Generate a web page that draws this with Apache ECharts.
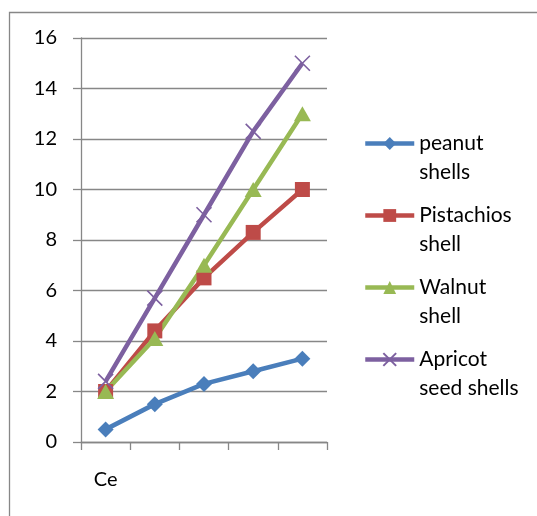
<!DOCTYPE html>
<html>
<head>
<meta charset="utf-8">
<script src="https://cdn.jsdelivr.net/npm/echarts@6/dist/echarts.min.js"></script>
<style>
  html, body { margin: 0; padding: 0; background: #fff; }
  #chart { width: 537px; height: 516px; }
</style>
</head>
<body>
<div id="chart"></div>
<script>
// Category axis: only the first position carries a label
const categories = ['Ce', '', '', '', ''];

// Measured values per shell type
const peanutShells = [0.5, 1.5, 2.3, 2.8, 3.3];
const pistachiosShell = [2.0, 4.4, 6.5, 8.3, 10.0];
const walnutShell = [2.0, 4.1, 7.0, 10.0, 13.0];
const apricotSeedShells = [2.4, 5.7, 9.0, 12.3, 15.0];

// Value axis range
const yMin = 0;
const yMax = 16;
const yStep = 2;

const FONT = 'Lato, "Liberation Sans", sans-serif';
const AXIS_GRAY = '#878787';

const chart = echarts.init(document.getElementById('chart'), null, { renderer: 'canvas' });

function lineSeries(name, data, color, symbol, size, extraItem) {
  return {
    name: name,
    type: 'line',
    data: data,
    symbol: symbol,
    symbolSize: size,
    showSymbol: true,
    lineStyle: { color: color, width: 4.5 },
    itemStyle: Object.assign({ color: color }, extraItem || {}),
    emphasis: { disabled: true },
    animation: false
  };
}

const crossPath = 'path://M0,0L10,10M10,0L0,10';

chart.setOption({
  backgroundColor: '#ffffff',
  animation: false,
  textStyle: { fontFamily: FONT },
  grid: { left: 81, top: 38, width: 246, height: 404, containLabel: false },
  graphic: [{
    type: 'rect',
    shape: { x: 9.5, y: 12.5, width: 700, height: 700 },
    style: { fill: 'none', stroke: AXIS_GRAY, lineWidth: 1.3 },
    silent: true,
    z: -10
  }],
  legend: {
    orient: 'vertical',
    left: 363,
    top: 100,
    padding: 0,
    itemWidth: 49,
    itemHeight: 16,
    itemGap: -15,
    selectedMode: false,
    lineStyle: { width: 4.5 },
    formatter: function (name) { return '\n' + name.replace(' ', '\n'); },
    textStyle: { fontFamily: FONT, fontSize: 21, lineHeight: 29, color: '#000' },
    data: ['peanut shells', 'Pistachios shell', 'Walnut shell', 'Apricot seed shells']
  },
  xAxis: {
    type: 'category',
    data: categories,
    boundaryGap: true,
    axisLine: { show: true, lineStyle: { color: AXIS_GRAY, width: 1.3 } },
    axisTick: { show: true, length: 8, interval: 0, lineStyle: { color: AXIS_GRAY, width: 1.3 } },
    axisLabel: { interval: 0, margin: 28, fontSize: 20, color: '#000', fontFamily: FONT },
    splitLine: { show: false }
  },
  yAxis: {
    type: 'value',
    min: yMin,
    max: yMax,
    interval: yStep,
    axisLine: { show: true, lineStyle: { color: AXIS_GRAY, width: 1.3 } },
    axisTick: { show: true, length: 8, lineStyle: { color: AXIS_GRAY, width: 1.3 } },
    axisLabel: { margin: 24, fontSize: 20, color: '#000', fontFamily: FONT },
    splitLine: { show: true, lineStyle: { color: AXIS_GRAY, width: 1.3 } }
  },
  series: [
    lineSeries('peanut shells', peanutShells, '#4A7EBB', 'diamond', 16),
    lineSeries('Pistachios shell', pistachiosShell, '#BE4B48', 'rect', 15),
    lineSeries('Walnut shell', walnutShell, '#98B954', 'triangle', [17, 15]),
    lineSeries('Apricot seed shells', apricotSeedShells, '#7D60A0', crossPath, 15,
      { borderColor: '#7D60A0', borderWidth: 1.6 })
  ]
});
</script>
</body>
</html>
